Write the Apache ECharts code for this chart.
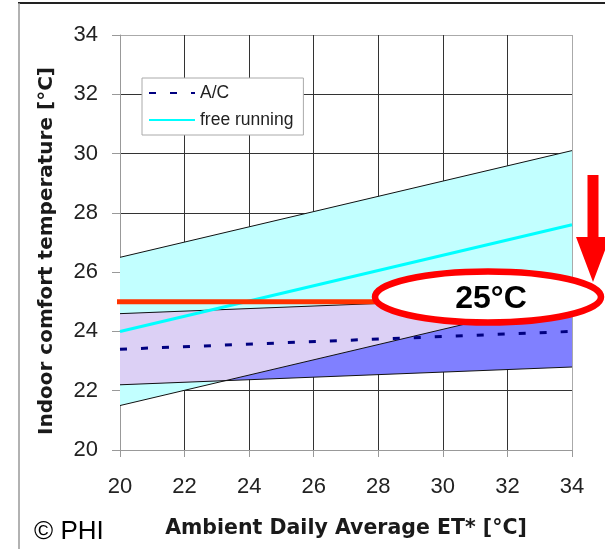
<!DOCTYPE html>
<html>
<head>
<meta charset="utf-8">
<script src="https://cdn.jsdelivr.net/npm/echarts@6/dist/echarts.min.js"></script>
<style>html,body{margin:0;padding:0;background:#fff}#c{width:605px;height:549px}</style>
</head>
<body>
<div id="c"></div>
<script>
// ---- data ----
const xEnds = [20, 34];                 // ambient ET* range of the lines
const freeRunning = [24.0, 27.6];       // free running comfort line
const freeUpper = [26.5, 30.1];         // free running band upper bound
const freeLower = [21.5, 25.1];         // free running band lower bound
const acLine = [23.4, 24.0];            // A/C comfort line
const acUpper = [24.6, 25.2];           // A/C band upper bound
const acLower = [22.2, 22.8];           // A/C band lower bound
const targetTemp = 25;                  // red 25°C line
const targetLineX = [19.78, 29];        // extent of the red line
const axisMin = 20, axisMax = 34, axisStep = 2;
const legendNames = ['A/C', 'free running'];
const annotationText = '25°C';
const copyrightText = '© PHI';

// ---- helpers ----
function lin(arr, x) { return arr[0] + (arr[1] - arr[0]) * (x - xEnds[0]) / (xEnds[1] - xEnds[0]); }
function cross(a, b) {
  const d0 = a[0] - b[0], d1 = a[1] - b[1];
  if (d0 * d1 < 0) return xEnds[0] + (xEnds[1] - xEnds[0]) * d0 / (d0 - d1);
  return null;
}
function pts(arr) { return xEnds.map((x, i) => [x, arr[i]]); }

const breaks = [xEnds[0], xEnds[1]];
[cross(freeUpper, acUpper), cross(freeLower, acLower), cross(freeUpper, acLower), cross(freeLower, acUpper)]
  .forEach(c => { if (c !== null) breaks.push(c); });
breaks.sort((a, b) => a - b);
const topF = x => Math.min(lin(freeUpper, x), lin(acUpper, x));
const botF = x => Math.max(lin(freeLower, x), lin(acLower, x));
const overlapPoly = breaks.map(x => [x, topF(x)]).concat(breaks.slice().reverse().map(x => [x, botF(x)]));

const polygons = [
  { poly: pts(freeUpper).concat(pts(freeLower).reverse()), color: '#c2ffff' },
  { poly: pts(acUpper).concat(pts(acLower).reverse()), color: '#8080ff' },
  { poly: overlapPoly, color: '#dcd0f5' }
];

const FONT = '"Liberation Sans", Arial, sans-serif';
const TITLE_FONT = '"DejaVu Sans", "Liberation Sans", sans-serif';
const chart = echarts.init(document.getElementById('c'), null, { renderer: 'canvas' });

function boundary(arr) {
  return { type: 'line', data: pts(arr), symbol: 'none', silent: true, z: 3,
           lineStyle: { color: '#111', width: 1 } };
}

const gridColors = ['#999', '#333', '#333', '#333', '#333', '#333', '#333', '#aaa'];

chart.setOption({
  animation: false,
  backgroundColor: '#fff',
  textStyle: { fontFamily: FONT },
  grid: { left: 120, right: 33, top: 35, bottom: 99 },
  legend: {
    data: legendNames, orient: 'vertical', left: 142, top: 78,
    backgroundColor: '#fff', borderColor: '#aaa', borderWidth: 1,
    padding: [6, 10, 6, 6], itemWidth: 46, itemHeight: 14, itemGap: 9,
    itemStyle: { opacity: 0 },
    textStyle: { fontSize: 17.5, color: '#222', fontFamily: FONT }
  },
  xAxis: {
    type: 'value', min: axisMin, max: axisMax, interval: axisStep,
    name: 'Ambient Daily Average ET* [°C]', nameLocation: 'middle', nameGap: 68,
    nameTextStyle: { fontSize: 20.5, fontWeight: 'bold', color: '#1a1a1a', fontFamily: TITLE_FONT },
    axisLine: { show: true, lineStyle: { color: '#999', width: 1 } },
    axisTick: { show: true, length: 7, lineStyle: { color: '#999' } },
    axisLabel: { fontSize: 22, color: '#222', margin: 26, fontFamily: FONT },
    splitLine: { show: true, lineStyle: { color: gridColors, width: 1 } }
  },
  yAxis: {
    type: 'value', min: axisMin, max: axisMax, interval: axisStep,
    name: 'Indoor comfort temperature [°C]', nameLocation: 'middle', nameGap: 63, nameRotate: 90,
    nameTextStyle: { fontSize: 20, fontWeight: 'bold', color: '#1a1a1a', fontFamily: TITLE_FONT,
                     padding: [0, 17, 0, 0] },
    axisLine: { show: true, lineStyle: { color: '#999', width: 1 } },
    axisTick: { show: true, length: 8, lineStyle: { color: '#999' } },
    axisLabel: { fontSize: 22, color: '#222', margin: 22, fontFamily: FONT },
    splitLine: { show: true, lineStyle: { color: gridColors, width: 1 } }
  },
  series: [
    {
      type: 'custom', silent: true, z: 1,
      data: polygons.map((p, i) => [xEnds[0], axisMin, i]),
      renderItem: function (params, api) {
        const p = polygons[api.value(2)];
        return { type: 'polygon', shape: { points: p.poly.map(q => api.coord(q)) },
                 style: { fill: p.color, stroke: null } };
      }
    },
    boundary(freeUpper), boundary(freeLower), boundary(acUpper), boundary(acLower),
    { name: 'A/C', type: 'line', data: pts(acLine), symbol: 'none', z: 4,
      lineStyle: { color: '#000080', width: 3, type: [7, 14] }, itemStyle: { color: '#000080' } },
    { name: 'free running', type: 'line', data: pts(freeRunning), symbol: 'none', z: 4,
      lineStyle: { color: '#00ffff', width: 3 }, itemStyle: { color: '#00ffff' } },
    { type: 'line', data: targetLineX.map(x => [x, targetTemp]), symbol: 'none', clip: false, z: 5,
      silent: true, lineStyle: { color: '#ff3300', width: 5 } }
  ],
  graphic: [
    { type: 'line', shape: { x1: 18, y1: 3, x2: 605, y2: 3 }, style: { stroke: '#222', lineWidth: 2 }, z: 50 },
    { type: 'line', shape: { x1: 19, y1: 3, x2: 19, y2: 549 }, style: { stroke: '#999', lineWidth: 1.5 }, z: 50 },
    { type: 'ellipse', shape: { cx: 488, cy: 297, rx: 113, ry: 25.5 },
      style: { fill: '#fff', stroke: '#ff0000', lineWidth: 6.5 }, z: 100 },
    { type: 'text', x: 491, y: 299, z: 101,
      style: { text: annotationText, font: 'bold 32px ' + FONT, fill: '#000',
               textAlign: 'center', textVerticalAlign: 'middle', align: 'center', verticalAlign: 'middle' } },
    { type: 'polygon', z: 100,
      shape: { points: [[587.5, 175], [598.5, 175], [598.5, 237], [610, 237], [593, 282], [576, 237], [587.5, 237]] },
      style: { fill: '#ff0000' } },
    { type: 'text', x: 34, y: 532, z: 101,
      style: { text: copyrightText, font: '26px ' + FONT, fill: '#000',
               textAlign: 'left', textVerticalAlign: 'middle', align: 'left', verticalAlign: 'middle' } }
  ]
});
</script>
</body>
</html>
